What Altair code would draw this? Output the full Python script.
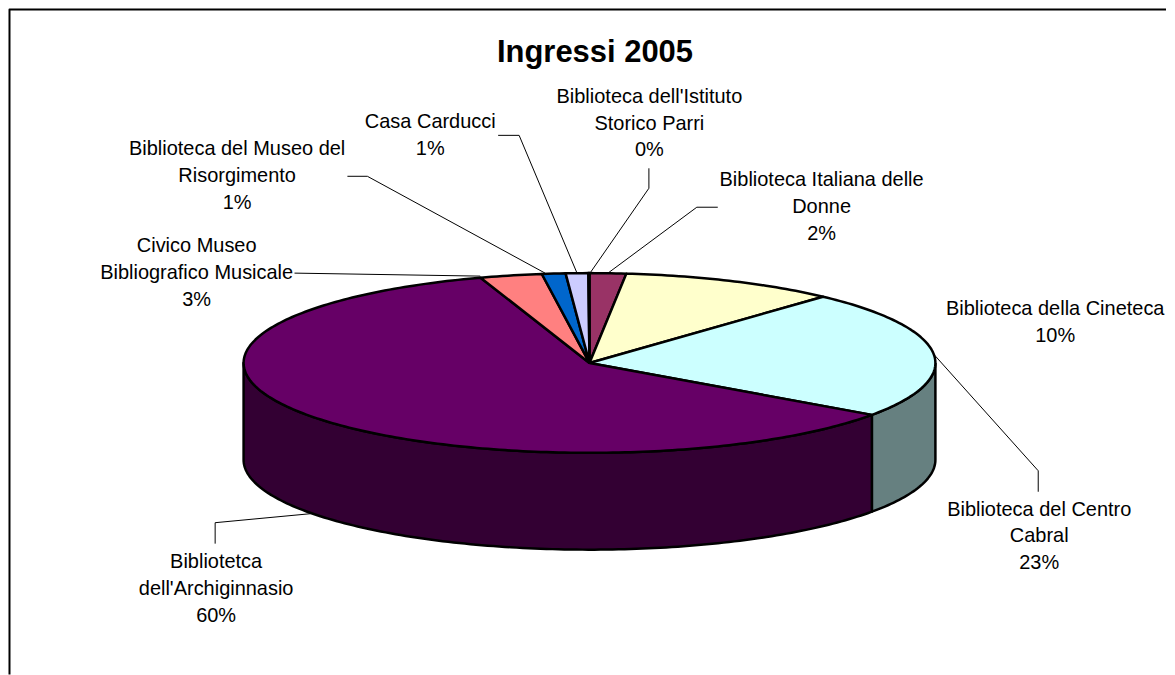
import math
import altair as alt

# Slice data, clockwise from 12 o'clock
slices = ["Biblioteca Italiana delle Donne", "Biblioteca della Cineteca", "Biblioteca del Centro Cabral",
          "Bibliotetca dell'Archiginnasio", "Civico Museo Bibliografico Musicale",
          "Biblioteca del Museo del Risorgimento", "Casa Carducci", "Biblioteca dell'Istituto Storico Parri"]
values = [1.7, 10.1, 23.0, 60.1, 2.9, 1.1, 1.05, 0.05]
top_colors = ["#993366", "#FFFFCC", "#CCFFFF", "#660066", "#FF8080", "#0066CC", "#CCCCFF", "#000080"]
side_colors = ["#4D1A33", "#808066", "#668080", "#330033", "#804040", "#003366", "#666680", "#000040"]

# Text lines: text, centre x, baseline y
label_text = ["Biblioteca dell'Istituto", "Storico Parri", "0%",
              "Casa Carducci", "1%",
              "Biblioteca del Museo del", "Risorgimento", "1%",
              "Civico Museo", "Bibliografico Musicale", "3%",
              "Biblioteca Italiana delle", "Donne", "2%",
              "Biblioteca della Cineteca", "10%",
              "Biblioteca del Centro", "Cabral", "23%",
              "Bibliotetca", "dell'Archiginnasio", "60%"]
label_x = [649.5, 649.5, 649.5, 430, 430, 236.5, 236.5, 236.5, 196, 196, 196, 822, 822, 822, 1056, 1056,
           1040, 1040, 1040, 215.5, 215.5, 215.5]
label_y = [103, 130, 156, 128, 155, 155, 182, 209, 252, 279, 306, 186, 213, 240, 315, 342,
           516, 542, 569, 568, 595, 622]

# Leader lines
leaders = [
    [(498, 135), (519, 135), (577, 273)],
    [(347, 176), (367, 176), (545, 273)],
    [(649, 168), (649, 188), (590, 273)],
    [(718, 207), (697, 207), (608, 273)],
    [(294, 273), (480, 276)],
    [(214.5, 544), (214.5, 523), (310, 514)],
    [(935, 355), (1039, 471), (1039, 492)],
]
border = [(8.5, 675), (8.5, 9), (1167, 9)]

CX, CY, RX, RY, DEPTH = 589.5, 363, 346.5, 90, 97

X = alt.X("x:Q", axis=None, scale=alt.Scale(domain=[8, 1167], nice=False, zero=False))
Y = alt.Y("y:Q", axis=None, scale=alt.Scale(domain=[675, 8], nice=False, zero=False))


def point(t, drop=0.0):
    r = math.radians(t)
    return (CX + RX * math.sin(r), CY - RY * math.cos(r) + drop)


def arc(a, b, drop=0.0):
    n = max(2, int(abs(b - a)) + 2)
    return [point(a + (b - a) * i / (n - 1), drop) for i in range(n)]


def poly(pts, stroke="black", width=2.5, fill=None):
    rows = [{"x": p[0], "y": p[1], "i": i} for i, p in enumerate(pts)]
    kw = {"stroke": stroke, "strokeWidth": width, "strokeJoin": "round"}
    if fill:
        kw["fill"] = fill
    return alt.Chart(alt.Data(values=rows)).mark_line(**kw).encode(x=X, y=Y, order="i:Q")


layers = []
total = sum(values)
bounds = []
acc = 0.0
for v in values:
    a = acc / total * 360
    acc += v
    bounds.append((a, acc / total * 360))

# side walls
for (a, b), col in zip(bounds, side_colors):
    s, e = max(a, 90), min(b, 270)
    if e > s:
        pts = arc(s, e) + arc(e, s, DEPTH)
        layers.append(poly(pts + pts[:1], fill=col))

# leader lines drawn beneath the top face
for line in leaders:
    layers.append(poly(line, width=1))

# top faces
for (a, b), col in zip(bounds, top_colors):
    pts = [(CX, CY)] + arc(a, b) + [(CX, CY)]
    layers.append(poly(pts, fill=col))

layers.append(poly(border, width=2))

text_rows = [{"t": t, "x": x, "y": y} for t, x, y in zip(label_text, label_x, label_y)]
layers.append(
    alt.Chart(alt.Data(values=text_rows))
    .mark_text(font="Liberation Sans", fontSize=20, color="black", align="center", baseline="alphabetic")
    .encode(x=X, y=Y, text="t:N")
)
layers.append(
    alt.Chart(alt.Data(values=[{"t": "Ingressi 2005", "x": 595, "y": 62}]))
    .mark_text(font="Liberation Sans", fontSize=31, fontWeight="bold", color="black", align="center", baseline="alphabetic")
    .encode(x=X, y=Y, text="t:N")
)

chart = (
    alt.layer(*layers)
    .properties(width=1159, height=667, padding=0, background="white")
    .configure_view(stroke=None)
)
chart.save("out.html", embed_options={"renderer": "svg", "actions": False})
